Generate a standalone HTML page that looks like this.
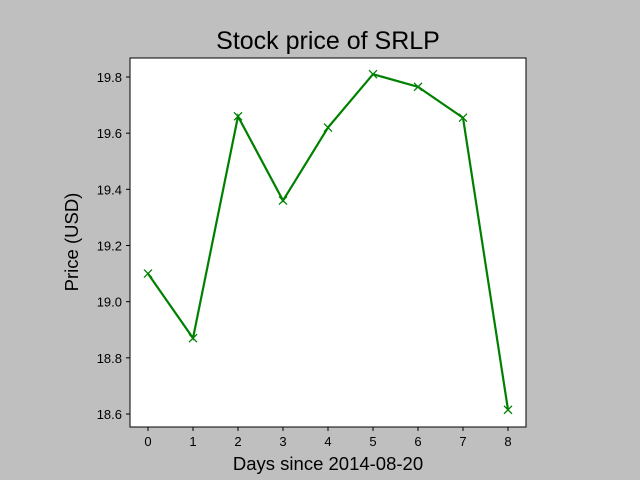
<!DOCTYPE html>
<html><head><meta charset="utf-8"><style>body{margin:0;background:#bfbfbf}svg{display:block}text{font-family:"Liberation Sans","DejaVu Sans",sans-serif}</style></head>
<body>
<svg id="c" width="640" height="480">
<rect x="0" y="0" width="640" height="480" fill="#bfbfbf"/>
<rect x="130" y="58" width="396" height="369" fill="#fff" stroke="#000" stroke-width="1"/>
<text x="328" y="49" font-size="25" text-anchor="middle">Stock price of SRLP</text>
<text x="328" y="470" font-size="18.5" text-anchor="middle">Days since 2014-08-20</text>
<text transform="translate(78,242) rotate(-90)" font-size="18.5" text-anchor="middle">Price (USD)</text>
<g id="ax"></g>
</svg>
<script>
const days=[0,1,2,3,4,5,6,7,8];
const prices=[19.10,18.87,19.66,19.36,19.62,19.81,19.765,19.655,18.615];
const yTicks=[18.6,18.8,19.0,19.2,19.4,19.6,19.8];
const xTicks=[0,1,2,3,4,5,6,7,8];
const X=v=>148+v*45, Y=v=>77+(19.8-v)*280.83;
const g=document.getElementById('ax'),NS='http://www.w3.org/2000/svg';
function mk(t,a){const e=document.createElementNS(NS,t);for(const k in a)e.setAttribute(k,a[k]);g.appendChild(e);return e;}
xTicks.forEach(t=>{const l=mk('line',{x1:X(t),x2:X(t),y1:427,y2:431,stroke:'#000'});


const s=mk('text',{x:X(t),y:446,'font-size':13,'text-anchor':'middle'});s.textContent=t;

});
yTicks.forEach(t=>{const l=mk('line',{x1:126,x2:130,y1:Y(t),y2:Y(t),stroke:'#000'});


const s=mk('text',{x:122,y:Y(t)+5,'font-size':13,'text-anchor':'end'});s.textContent=t.toFixed(1);

});
const p=mk('polyline',{points:days.map((d,i)=>X(d)+','+Y(prices[i])).join(' '),fill:'none',stroke:'#008000','stroke-width':2.2});


days.forEach((d,i)=>{const x=X(d),y=Y(prices[i]);const m=mk('path',{d:`M${x-4},${y-4}L${x+4},${y+4}M${x-4},${y+4}L${x+4},${y-4}`,stroke:'#008000','stroke-width':1.3});

});
</script>
</body></html>
